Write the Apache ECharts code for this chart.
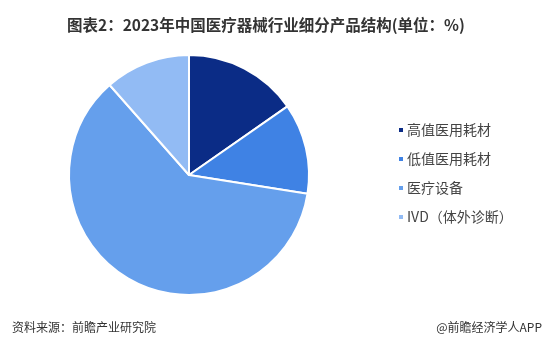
<!DOCTYPE html>
<html>
<head>
<meta charset="utf-8">
<script src="https://cdn.jsdelivr.net/npm/echarts@6/dist/echarts.min.js"></script>
<style>
html,body{margin:0;padding:0;background:#fff;}
#c{width:551px;height:354px;}
</style>
</head>
<body>
<div id="c"></div>
<script>
var categories = ['高值医用耗材', '低值医用耗材', '医疗设备', 'IVD（体外诊断）'];
var values = [15.3, 12.2, 61.0, 11.5];
var colors = ['#0b2c86', '#3f82e4', '#659fec', '#92bbf4'];

var chart = echarts.init(document.getElementById('c'));
chart.setOption({
  backgroundColor: '#fff',
  animation: false,
  color: colors,
  title: [{
    text: '图表2：2023年中国医疗器械行业细分产品结构(单位：%)',
    left: 62,
    top: 12,
    textStyle: {fontSize: 15.5, fontWeight: 'bold', color: '#333', fontFamily: '"Noto Sans CJK SC", sans-serif'}
  }, {
    text: '资料来源：前瞻产业研究院',
    left: 7,
    top: 316,
    textStyle: {fontSize: 12, fontWeight: 'normal', color: '#333', fontFamily: '"Noto Sans CJK SC", sans-serif'}
  }, {
    text: '@前瞻经济学人APP',
    right: 4,
    top: 316,
    textStyle: {fontSize: 12, fontWeight: 'normal', color: '#333', fontFamily: '"Noto Sans CJK SC", sans-serif'}
  }],
  legend: {
    orient: 'vertical',
    left: 392,
    top: 118,
    icon: 'rect',
    itemWidth: 6,
    itemHeight: 6,
    itemGap: 15,
    textStyle: {fontSize: 14, color: '#444', fontFamily: '"Noto Sans CJK SC", sans-serif', padding: [0, 0, 0, -2]},
    data: categories
  },
  series: [{
    type: 'pie',
    center: [189, 175],
    radius: [0, 120],
    startAngle: 90,
    clockwise: true,
    label: {show: false},
    labelLine: {show: false},
    itemStyle: {borderColor: '#fff', borderWidth: 2},
    emphasis: {disabled: true},
    data: categories.map(function (n, i) { return {name: n, value: values[i]}; })
  }]
});
</script>
</body>
</html>
